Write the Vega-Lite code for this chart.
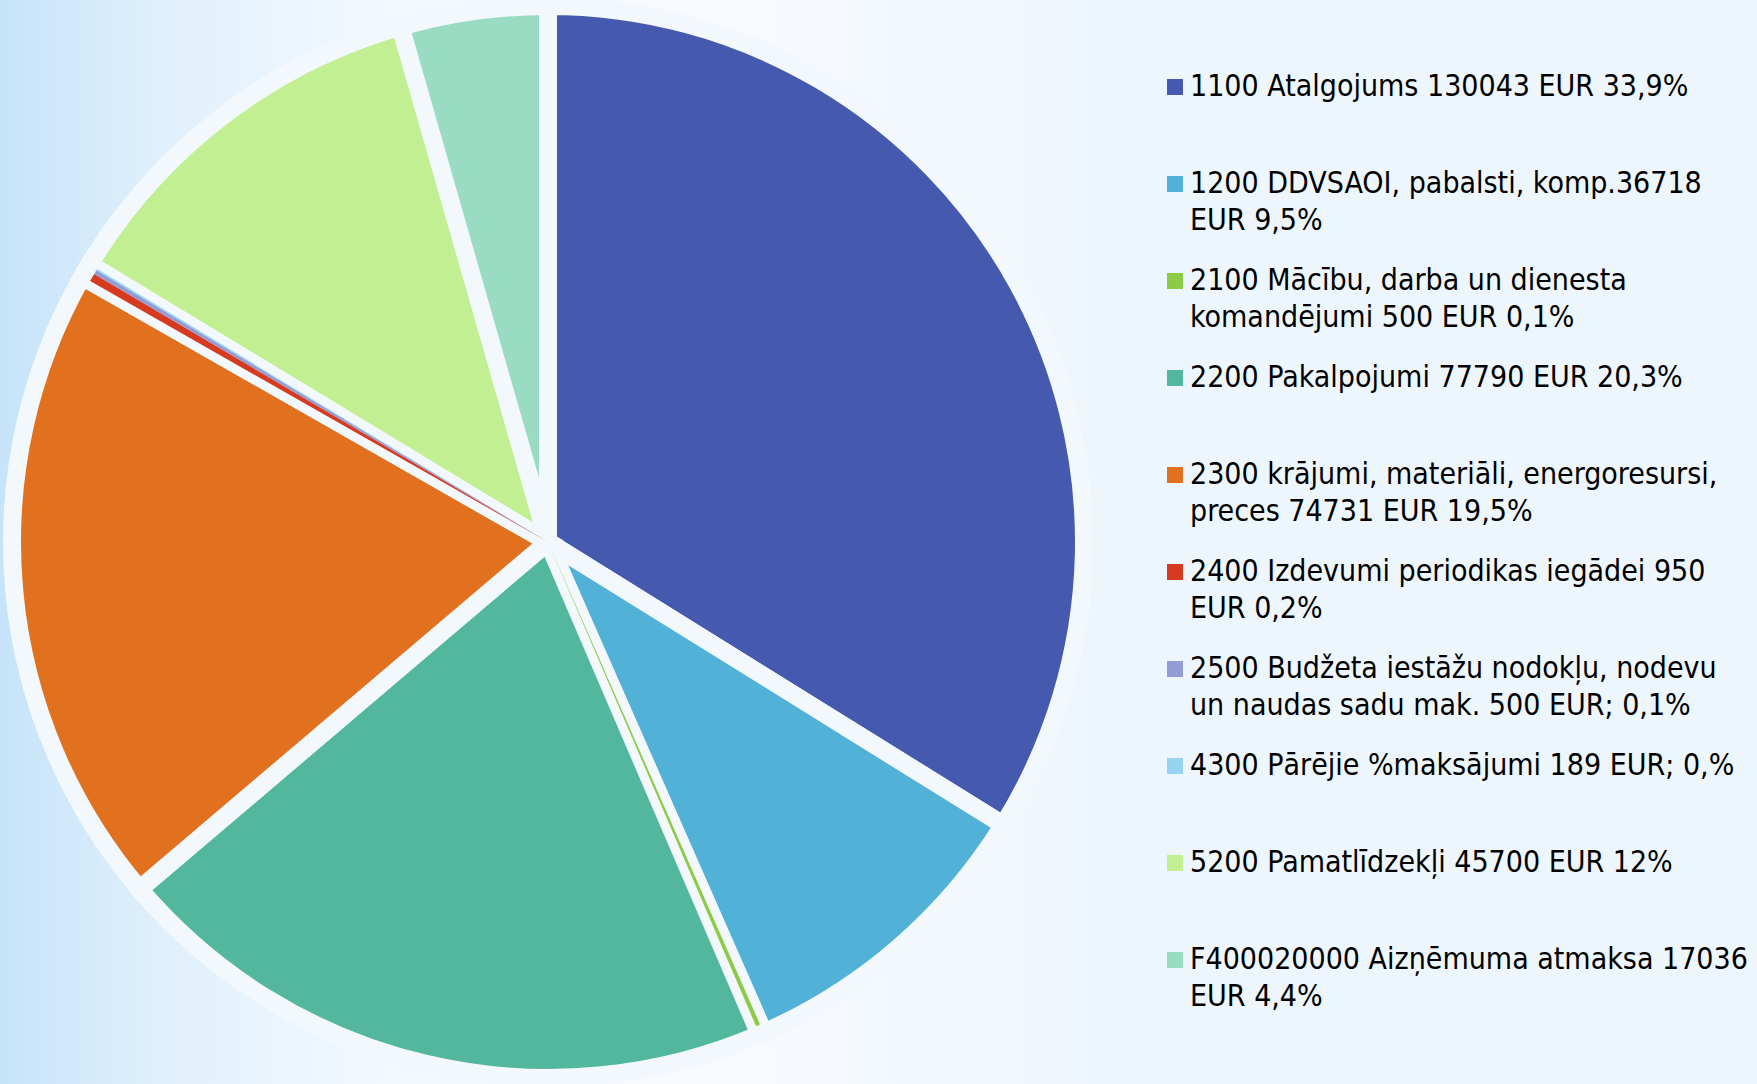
{
  "$schema": "https://vega.github.io/schema/vega-lite/v6.json",
  "width": 1096,
  "height": 1084,
  "autosize": "none",
  "padding": {"left": 0, "top": 0, "right": 661, "bottom": 0},
  "background": "#eef6fd",
  "config": {
    "view": {"stroke": null},
    "style": {"guide-label": {"dy": -15, "lineHeight": 37}}
  },
  "data": {"values": [
    {"label": "1100 Atalgojums 130043 EUR 33,9%", "amount": 130043},
    {"label": "1200 DDVSAOI, pabalsti, komp.36718\nEUR 9,5%", "amount": 36718},
    {"label": "2100 Mācību, darba un dienesta\nkomandējumi 500 EUR 0,1%", "amount": 500},
    {"label": "2200 Pakalpojumi 77790 EUR 20,3%", "amount": 77790},
    {"label": "2300 krājumi, materiāli, energoresursi,\npreces 74731 EUR 19,5%", "amount": 74731},
    {"label": "2400 Izdevumi periodikas iegādei 950\nEUR 0,2%", "amount": 950},
    {"label": "2500 Budžeta iestāžu nodokļu, nodevu\nun naudas sadu mak. 500 EUR; 0,1%", "amount": 500},
    {"label": "4300 Pārējie %maksājumi 189 EUR; 0,%", "amount": 189},
    {"label": "5200 Pamatlīdzekļi 45700 EUR 12%", "amount": 45700},
    {"label": "F400020000 Aizņēmuma atmaksa 17036\nEUR 4,4%", "amount": 17036}
  ]},
  "layer": [
    {
      "data": {"values": [{}]},
      "mark": {"type": "rect", "fill": {"gradient": "linear", "x1": 0, "y1": 0, "x2": 1, "y2": 0,
        "stops": [{"offset": 0, "color": "#c6e3f9"}, {"offset": 0.15, "color": "#e0f0fc"}, {"offset": 0.35, "color": "#f3f9fe"}, {"offset": 0.65, "color": "#f8fbff"}, {"offset": 1, "color": "#eef6fd"}]}},
      "encoding": {}
    },
    {
      "mark": {"type": "arc", "outerRadius": 536, "stroke": "#f3f8fd", "strokeWidth": 18},
      "encoding": {
        "theta": {"field": "amount", "type": "quantitative", "stack": true},
        "order": {"field": "label", "type": "ordinal"},
        "color": {"field": "label", "type": "nominal",
          "scale": {"range": ["#4559AE", "#52B1D6", "#8DCB47", "#52B79D", "#E1711E", "#D63A1F", "#939CD5", "#96D4F2", "#C3EF93", "#9ADBC4"]},
          "legend": {
            "title": null, "orient": "none", "legendX": 1160, "legendY": 72,
            "symbolType": "square", "symbolSize": 256, "symbolStrokeWidth": 0,
            "labelFont": "DejaVu Sans Condensed", "labelFontSize": 30, "labelColor": "#000000",
            "labelLimit": 1000, "labelBaseline": "top", "labelOffset": 0,
            "labelExpr": "indexof(datum.label, '\\n') >= 0 ? split(datum.label, '\\n') : [datum.label, '']",
            "rowPadding": 30
          }
        }
      }
    },
    {
      "mark": {"type": "arc", "outerRadius": 527, "strokeWidth": 0},
      "encoding": {
        "theta": {"field": "amount", "type": "quantitative", "stack": true},
        "order": {"field": "label", "type": "ordinal"},
        "color": {"field": "label", "type": "nominal"},
        "fillOpacity": {"condition": {"test": "datum.amount < 1000", "value": 1}, "value": 0}
      }
    }
  ]
}
